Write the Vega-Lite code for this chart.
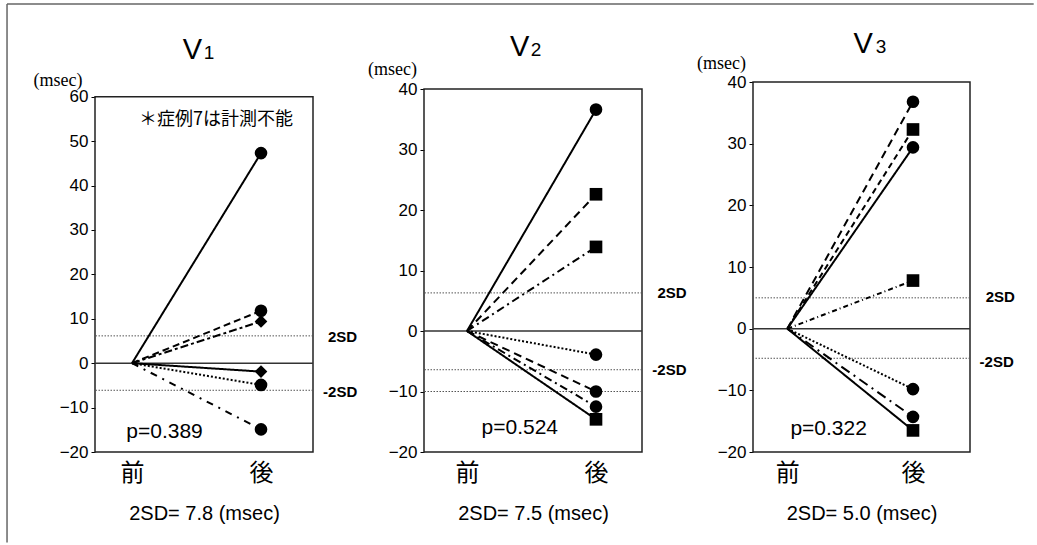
{
  "$schema": "https://vega.github.io/schema/vega-lite/v6.json",
  "autosize": {"type": "pad"},
  "padding": {"left": 6, "top": 3, "right": 0, "bottom": 0},
  "background": "white",
  "bounds": "flush",
  "spacing": 111,
  "config": {
    "view": {"stroke": null},
    "font": "Liberation Sans",
    "axis": {"labelColor": "black", "titleColor": "black", "tickColor": "black", "grid": false},
    "text": {"color": "black"}
  },
  "datasets": {
    "ecg": [
      {"lead": "V1", "case": "1", "phase": 0, "ms": 0}, {"lead": "V1", "case": "1", "phase": 1, "ms": 47.3},
      {"lead": "V1", "case": "2", "phase": 0, "ms": 0}, {"lead": "V1", "case": "2", "phase": 1, "ms": 11.8},
      {"lead": "V1", "case": "3", "phase": 0, "ms": 0}, {"lead": "V1", "case": "3", "phase": 1, "ms": -4.9},
      {"lead": "V1", "case": "4", "phase": 0, "ms": 0}, {"lead": "V1", "case": "4", "phase": 1, "ms": -14.9},
      {"lead": "V1", "case": "5", "phase": 0, "ms": 0}, {"lead": "V1", "case": "5", "phase": 1, "ms": -1.9},
      {"lead": "V1", "case": "6", "phase": 0, "ms": 0}, {"lead": "V1", "case": "6", "phase": 1, "ms": 9.4},
      {"lead": "V2", "case": "1", "phase": 0, "ms": 0}, {"lead": "V2", "case": "1", "phase": 1, "ms": 36.6},
      {"lead": "V2", "case": "2", "phase": 0, "ms": 0}, {"lead": "V2", "case": "2", "phase": 1, "ms": -10.0},
      {"lead": "V2", "case": "3", "phase": 0, "ms": 0}, {"lead": "V2", "case": "3", "phase": 1, "ms": -3.9},
      {"lead": "V2", "case": "4", "phase": 0, "ms": 0}, {"lead": "V2", "case": "4", "phase": 1, "ms": -12.5},
      {"lead": "V2", "case": "5", "phase": 0, "ms": 0}, {"lead": "V2", "case": "5", "phase": 1, "ms": -14.6},
      {"lead": "V2", "case": "6", "phase": 0, "ms": 0}, {"lead": "V2", "case": "6", "phase": 1, "ms": 13.9},
      {"lead": "V2", "case": "7", "phase": 0, "ms": 0}, {"lead": "V2", "case": "7", "phase": 1, "ms": 22.6},
      {"lead": "V3", "case": "1", "phase": 0, "ms": 0}, {"lead": "V3", "case": "1", "phase": 1, "ms": 29.4},
      {"lead": "V3", "case": "2", "phase": 0, "ms": 0}, {"lead": "V3", "case": "2", "phase": 1, "ms": 36.8},
      {"lead": "V3", "case": "3", "phase": 0, "ms": 0}, {"lead": "V3", "case": "3", "phase": 1, "ms": -9.8},
      {"lead": "V3", "case": "4", "phase": 0, "ms": 0}, {"lead": "V3", "case": "4", "phase": 1, "ms": -14.3},
      {"lead": "V3", "case": "5", "phase": 0, "ms": 0}, {"lead": "V3", "case": "5", "phase": 1, "ms": -16.5},
      {"lead": "V3", "case": "6", "phase": 0, "ms": 0}, {"lead": "V3", "case": "6", "phase": 1, "ms": 7.8},
      {"lead": "V3", "case": "7", "phase": 0, "ms": 0}, {"lead": "V3", "case": "7", "phase": 1, "ms": 32.3}
    ]
  },
  "resolve": {"scale": {"x": "independent", "y": "independent", "strokeDash": "independent", "shape": "independent", "strokeWidth": "independent", "size": "independent"}},
  "hconcat": [
    {
      "width": 218, "height": 370,
      "layer": [
        {"data": {"values": [{}]}, "mark": {"type": "rule", "stroke": "#666", "strokeWidth": 1.5},
         "encoding": {"x": {"datum": -0.969, "type": "quantitative"}, "x2": {"datum": 6.99}, "y": {"datum": 80.9, "type": "quantitative"}}},
        {"data": {"values": [{}]}, "mark": {"type": "rule", "stroke": "#666", "strokeWidth": 1.5},
         "encoding": {"x": {"datum": -0.969, "type": "quantitative"}, "y": {"datum": 80.9, "type": "quantitative"}, "y2": {"datum": -40.4}}},
        {"data": {"values": [{}]}, "mark": {"type": "rect", "fill": null, "fillOpacity": 0, "stroke": "#222", "strokeWidth": 1.5},
         "encoding": {"x": {"datum": -0.287, "type": "quantitative"}, "x2": {"datum": 1.403}, "y": {"datum": 60, "type": "quantitative"}, "y2": {"datum": -20}}},
        {"data": {"values": [{}]}, "mark": {"type": "rule", "stroke": "#333", "strokeWidth": 1.5},
         "encoding": {"y": {"datum": 0, "type": "quantitative"}}},
        {"data": {"values": [{}]}, "mark": {"type": "rule", "stroke": "#555", "strokeWidth": 1, "strokeDash": [1.5, 1.5]},
         "encoding": {"y": {"datum": 6.15, "type": "quantitative"}}},
        {"data": {"values": [{}]}, "mark": {"type": "rule", "stroke": "#555", "strokeWidth": 1, "strokeDash": [1.5, 1.5]},
         "encoding": {"y": {"datum": -6.1, "type": "quantitative"}}},
        {
          "data": {"name": "ecg"},
          "transform": [{"filter": "datum.lead === 'V1'"}],
          "mark": {"type": "line", "color": "black"},
          "encoding": {
            "x": {"field": "phase", "type": "quantitative",
                  "scale": {"domain": [-0.287, 1.403], "nice": false, "zero": false},
                  "axis": {"values": [0, 1], "labelExpr": "datum.value === 0 ? '前' : '後'", "ticks": false, "domain": false,
                           "labelFont": "Noto Sans CJK JP", "labelFontSize": 24, "labelPadding": 9, "labelFlush": false,
                           "title": "2SD= 7.8 (msec)", "titleFontSize": 20, "titleFontWeight": "normal", "titlePadding": 18}},
            "y": {"field": "ms", "type": "quantitative",
                  "scale": {"domain": [-20, 63.31], "nice": false, "zero": false},
                  "axis": {"values": [-20, -10, 0, 10, 20, 30, 40, 50, 60], "domain": false, "tickSize": 4,
                           "labelFontSize": 17, "labelPadding": 3, "title": null}},
            "strokeDash": {"field": "case", "type": "nominal", "legend": null,
                           "scale": {"domain": ["1", "2", "3", "4", "5", "6"], "range": [[1, 0], [7, 4], [2, 2], [7, 6, 2, 6], [1, 0], [8, 3, 3, 3]]}},
            "strokeWidth": {"field": "case", "type": "nominal", "legend": null,
                            "scale": {"domain": ["1", "2", "3", "4", "5", "6"], "range": [2, 2, 2, 2, 2, 2]}}
          }
        },
        {
          "data": {"name": "ecg"},
          "transform": [{"filter": "datum.lead === 'V1' && datum.phase === 1"}],
          "mark": {"type": "point", "filled": true, "color": "black", "opacity": 1},
          "encoding": {
            "x": {"field": "phase", "type": "quantitative"},
            "y": {"field": "ms", "type": "quantitative"},
            "shape": {"field": "case", "type": "nominal", "legend": null,
                      "scale": {"domain": ["1", "2", "3", "4", "5", "6"], "range": ["circle", "circle", "circle", "circle", "diamond", "diamond"]}},
            "size": {"field": "case", "type": "nominal", "legend": null,
                     "scale": {"domain": ["1", "2", "3", "4", "5", "6"], "range": [160, 160, 160, 160, 110, 110]}}
          }
        },
        {"data": {"values": [{}]}, "mark": {"type": "text", "text": "V", "fontSize": 29, "align": "right", "baseline": "alphabetic"},
         "encoding": {"x": {"datum": 0.544, "type": "quantitative"}, "y": {"datum": 68.4, "type": "quantitative"}}},
        {"data": {"values": [{}]}, "mark": {"type": "text", "text": "1", "fontSize": 19, "align": "left", "baseline": "alphabetic"},
         "encoding": {"x": {"datum": 0.556, "type": "quantitative"}, "y": {"datum": 68.4, "type": "quantitative"}}},
        {"data": {"values": [{}]}, "mark": {"type": "text", "text": "(msec)", "font": "Liberation Serif", "fontSize": 18, "align": "center", "baseline": "middle"},
         "encoding": {"x": {"datum": -0.574, "type": "quantitative"}, "y": {"datum": 63.6, "type": "quantitative"}}},
        {"data": {"values": [{}]}, "mark": {"type": "text", "text": "＊症例7は計測不能", "font": "Noto Sans CJK JP", "fontSize": 18, "align": "center", "baseline": "middle"},
         "encoding": {"x": {"datum": 0.651, "type": "quantitative"}, "y": {"datum": 54.8, "type": "quantitative"}}},
        {"data": {"values": [{}]}, "mark": {"type": "text", "text": "p=0.389", "fontSize": 21, "align": "center", "baseline": "middle"},
         "encoding": {"x": {"datum": 0.252, "type": "quantitative"}, "y": {"datum": -15.45, "type": "quantitative"}}},
        {"data": {"values": [{}]}, "mark": {"type": "text", "text": "2SD", "fontSize": 15, "fontWeight": "bold", "align": "left", "baseline": "middle"},
         "encoding": {"x": {"datum": 1.519, "type": "quantitative"}, "y": {"datum": 5.9, "type": "quantitative"}}},
        {"data": {"values": [{}]}, "mark": {"type": "text", "text": "-2SD", "fontSize": 15, "fontWeight": "bold", "align": "left", "baseline": "middle"},
         "encoding": {"x": {"datum": 1.481, "type": "quantitative"}, "y": {"datum": -6.4, "type": "quantitative"}}}
      ]
    },
    {
      "width": 218, "height": 370,
      "layer": [
        {"data": {"values": [{}]}, "mark": {"type": "rect", "fill": null, "fillOpacity": 0, "stroke": "#222", "strokeWidth": 1.5},
         "encoding": {"x": {"datum": -0.3333, "type": "quantitative"}, "x2": {"datum": 1.3566}, "y": {"datum": 40, "type": "quantitative"}, "y2": {"datum": -20}}},
        {"data": {"values": [{}]}, "mark": {"type": "rule", "stroke": "#333", "strokeWidth": 1.5},
         "encoding": {"y": {"datum": 0, "type": "quantitative"}}},
        {"data": {"values": [{}]}, "mark": {"type": "rule", "stroke": "#555", "strokeWidth": 1, "strokeDash": [1.5, 1.5]},
         "encoding": {"y": {"datum": 6.3, "type": "quantitative"}}},
        {"data": {"values": [{}]}, "mark": {"type": "rule", "stroke": "#555", "strokeWidth": 1, "strokeDash": [1.5, 1.5]},
         "encoding": {"y": {"datum": -6.4, "type": "quantitative"}}},
        {"data": {"values": [{}]}, "mark": {"type": "rule", "stroke": "#555", "strokeWidth": 1, "strokeDash": [1.5, 1.5]},
         "encoding": {"y": {"datum": -10, "type": "quantitative"}}},
        {
          "data": {"name": "ecg"},
          "transform": [{"filter": "datum.lead === 'V2'"}],
          "mark": {"type": "line", "color": "black"},
          "encoding": {
            "x": {"field": "phase", "type": "quantitative",
                  "scale": {"domain": [-0.3333, 1.3566], "nice": false, "zero": false},
                  "axis": {"values": [0, 1], "labelExpr": "datum.value === 0 ? '前' : '後'", "ticks": false, "domain": false,
                           "labelFont": "Noto Sans CJK JP", "labelFontSize": 24, "labelPadding": 9, "labelFlush": false,
                           "title": "2SD= 7.5 (msec)", "titleFontSize": 20, "titleFontWeight": "normal", "titlePadding": 18}},
            "y": {"field": "ms", "type": "quantitative",
                  "scale": {"domain": [-20, 41.16], "nice": false, "zero": false},
                  "axis": {"values": [-20, -10, 0, 10, 20, 30, 40], "domain": false, "tickSize": 4,
                           "labelFontSize": 17, "labelPadding": 3, "title": null}},
            "strokeDash": {"field": "case", "type": "nominal", "legend": null,
                           "scale": {"domain": ["1", "2", "3", "4", "5", "6", "7"], "range": [[1, 0], [8, 5], [2, 2], [8, 4, 2, 4], [1, 0], [8, 4, 2, 4], [8, 5]]}},
            "strokeWidth": {"field": "case", "type": "nominal", "legend": null,
                            "scale": {"domain": ["1", "2", "3", "4", "5", "6", "7"], "range": [2, 2, 2, 2, 2, 2, 2]}}
          }
        },
        {
          "data": {"name": "ecg"},
          "transform": [{"filter": "datum.lead === 'V2' && datum.phase === 1"}],
          "mark": {"type": "point", "filled": true, "color": "black", "opacity": 1},
          "encoding": {
            "x": {"field": "phase", "type": "quantitative"},
            "y": {"field": "ms", "type": "quantitative"},
            "shape": {"field": "case", "type": "nominal", "legend": null,
                      "scale": {"domain": ["1", "2", "3", "4", "5", "6", "7"], "range": ["circle", "circle", "circle", "circle", "square", "square", "square"]}},
            "size": {"field": "case", "type": "nominal", "legend": null,
                     "scale": {"domain": ["1", "2", "3", "4", "5", "6", "7"], "range": [160, 160, 160, 160, 90, 90, 90]}}
          }
        },
        {"data": {"values": [{}]}, "mark": {"type": "text", "text": "V", "fontSize": 29, "align": "right", "baseline": "alphabetic"},
         "encoding": {"x": {"datum": 0.484, "type": "quantitative"}, "y": {"datum": 45.4, "type": "quantitative"}}},
        {"data": {"values": [{}]}, "mark": {"type": "text", "text": "2", "fontSize": 19, "align": "left", "baseline": "alphabetic"},
         "encoding": {"x": {"datum": 0.494, "type": "quantitative"}, "y": {"datum": 45.4, "type": "quantitative"}}},
        {"data": {"values": [{}]}, "mark": {"type": "text", "text": "(msec)", "font": "Liberation Serif", "fontSize": 18, "align": "center", "baseline": "middle"},
         "encoding": {"x": {"datum": -0.578, "type": "quantitative"}, "y": {"datum": 43.2, "type": "quantitative"}}},
        {"data": {"values": [{}]}, "mark": {"type": "text", "text": "p=0.524", "fontSize": 21, "align": "center", "baseline": "middle"},
         "encoding": {"x": {"datum": 0.409, "type": "quantitative"}, "y": {"datum": -16.0, "type": "quantitative"}}},
        {"data": {"values": [{}]}, "mark": {"type": "text", "text": "2SD", "fontSize": 15, "fontWeight": "bold", "align": "left", "baseline": "middle"},
         "encoding": {"x": {"datum": 1.476, "type": "quantitative"}, "y": {"datum": 6.3, "type": "quantitative"}}},
        {"data": {"values": [{}]}, "mark": {"type": "text", "text": "-2SD", "fontSize": 15, "fontWeight": "bold", "align": "left", "baseline": "middle"},
         "encoding": {"x": {"datum": 1.437, "type": "quantitative"}, "y": {"datum": -6.4, "type": "quantitative"}}}
      ]
    },
    {
      "width": 217, "height": 370,
      "layer": [
        {"data": {"values": [{}]}, "mark": {"type": "rect", "fill": null, "fillOpacity": 0, "stroke": "#222", "strokeWidth": 1.5},
         "encoding": {"x": {"datum": -0.273, "type": "quantitative"}, "x2": {"datum": 1.4535}, "y": {"datum": 40, "type": "quantitative"}, "y2": {"datum": -20}}},
        {"data": {"values": [{}]}, "mark": {"type": "rule", "stroke": "#333", "strokeWidth": 1.5},
         "encoding": {"y": {"datum": 0, "type": "quantitative"}}},
        {"data": {"values": [{}]}, "mark": {"type": "rule", "stroke": "#555", "strokeWidth": 1, "strokeDash": [1.5, 1.5]},
         "encoding": {"y": {"datum": 5.0, "type": "quantitative"}}},
        {"data": {"values": [{}]}, "mark": {"type": "rule", "stroke": "#555", "strokeWidth": 1, "strokeDash": [1.5, 1.5]},
         "encoding": {"y": {"datum": -4.8, "type": "quantitative"}}},
        {
          "data": {"name": "ecg"},
          "transform": [{"filter": "datum.lead === 'V3'"}],
          "mark": {"type": "line", "color": "black"},
          "encoding": {
            "x": {"field": "phase", "type": "quantitative",
                  "scale": {"domain": [-0.273, 1.4535], "nice": false, "zero": false},
                  "axis": {"values": [0, 1], "labelExpr": "datum.value === 0 ? '前' : '後'", "ticks": false, "domain": false,
                           "labelFont": "Noto Sans CJK JP", "labelFontSize": 24, "labelPadding": 9, "labelFlush": false,
                           "title": "2SD= 5.0 (msec)", "titleFontSize": 20, "titleFontWeight": "normal", "titlePadding": 18}},
            "y": {"field": "ms", "type": "quantitative",
                  "scale": {"domain": [-20, 40], "nice": false, "zero": false},
                  "axis": {"values": [-20, -10, 0, 10, 20, 30, 40], "domain": false, "tickSize": 4,
                           "labelFontSize": 17, "labelPadding": 3, "title": null}},
            "strokeDash": {"field": "case", "type": "nominal", "legend": null,
                           "scale": {"domain": ["1", "2", "3", "4", "5", "6", "7"], "range": [[1, 0], [8, 5], [2, 2], [10, 5, 2, 5], [1, 0], [5, 3, 1, 3], [6, 4]]}},
            "strokeWidth": {"field": "case", "type": "nominal", "legend": null,
                            "scale": {"domain": ["1", "2", "3", "4", "5", "6", "7"], "range": [2, 2, 2, 2, 2, 1, 2]}}
          }
        },
        {
          "data": {"name": "ecg"},
          "transform": [{"filter": "datum.lead === 'V3' && datum.phase === 1"}],
          "mark": {"type": "point", "filled": true, "color": "black", "opacity": 1},
          "encoding": {
            "x": {"field": "phase", "type": "quantitative"},
            "y": {"field": "ms", "type": "quantitative"},
            "shape": {"field": "case", "type": "nominal", "legend": null,
                      "scale": {"domain": ["1", "2", "3", "4", "5", "6", "7"], "range": ["circle", "circle", "circle", "circle", "square", "square", "square"]}},
            "size": {"field": "case", "type": "nominal", "legend": null,
                     "scale": {"domain": ["1", "2", "3", "4", "5", "6", "7"], "range": [160, 160, 160, 160, 90, 90, 90]}}
          }
        },
        {"data": {"values": [{}]}, "mark": {"type": "text", "text": "V", "fontSize": 29, "align": "right", "baseline": "alphabetic"},
         "encoding": {"x": {"datum": 0.681, "type": "quantitative"}, "y": {"datum": 44.76, "type": "quantitative"}}},
        {"data": {"values": [{}]}, "mark": {"type": "text", "text": "3", "fontSize": 19, "align": "left", "baseline": "alphabetic"},
         "encoding": {"x": {"datum": 0.703, "type": "quantitative"}, "y": {"datum": 44.76, "type": "quantitative"}}},
        {"data": {"values": [{}]}, "mark": {"type": "text", "text": "(msec)", "font": "Liberation Serif", "fontSize": 18, "align": "center", "baseline": "middle"},
         "encoding": {"x": {"datum": -0.524, "type": "quantitative"}, "y": {"datum": 42.9, "type": "quantitative"}}},
        {"data": {"values": [{}]}, "mark": {"type": "text", "text": "p=0.322", "fontSize": 21, "align": "center", "baseline": "middle"},
         "encoding": {"x": {"datum": 0.329, "type": "quantitative"}, "y": {"datum": -16.2, "type": "quantitative"}}},
        {"data": {"values": [{}]}, "mark": {"type": "text", "text": "2SD", "fontSize": 15, "fontWeight": "bold", "align": "left", "baseline": "middle"},
         "encoding": {"x": {"datum": 1.578, "type": "quantitative"}, "y": {"datum": 5.1, "type": "quantitative"}}},
        {"data": {"values": [{}]}, "mark": {"type": "text", "text": "-2SD", "fontSize": 15, "fontWeight": "bold", "align": "left", "baseline": "middle"},
         "encoding": {"x": {"datum": 1.530, "type": "quantitative"}, "y": {"datum": -5.4, "type": "quantitative"}}}
      ]
    }
  ]
}
